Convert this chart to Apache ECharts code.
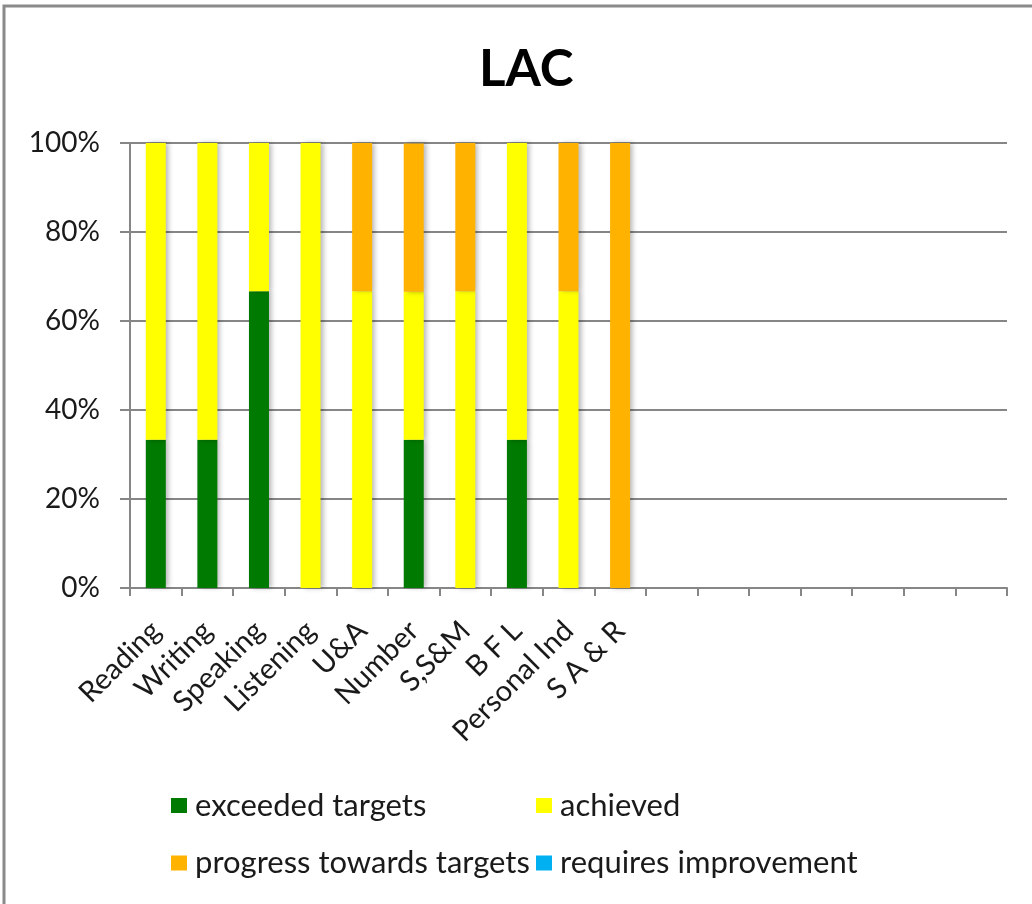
<!DOCTYPE html>
<html>
<head>
<meta charset="utf-8">
<script src="https://cdn.jsdelivr.net/npm/echarts@6/dist/echarts.min.js"></script>
<style>
html,body{margin:0;padding:0;background:#fff;}
#chart{width:1032px;height:904px;}
</style>
</head>
<body>
<div id="chart"></div>
<script>
const categories = ['Reading','Writing','Speaking','Listening','U&A','Number','S,S&M','B F L','Personal Ind','S A & R','','','','','','',''];
const exceeded = [33.3,33.3,66.7,0,0,33.3,0,33.3,0,0];
const achieved = [66.7,66.7,33.3,100,66.7,33.3,66.7,66.7,66.7,0];
const progress = [0,0,0,0,33.3,33.3,33.3,0,33.3,100];
const requiresImprovement = [0,0,0,0,0,0,0,0,0,0];
const yTicks = [0,20,40,60,80,100];

const FONT = 'Lato, "Open Sans", sans-serif';
const AXIS = '#868686';
const shadow = {shadowColor:'rgba(0,0,0,0.28)', shadowBlur:5, shadowOffsetX:3, shadowOffsetY:0};

function mk(name, data, color){
  return {name, type:'bar', stack:'s', data, barWidth:20,
    itemStyle:Object.assign({color}, shadow), emphasis:{disabled:true}};
}
const legendText = {fontFamily:FONT, fontSize:31, color:'#1a1a1a', lineHeight:31, padding:[0,0,0,3]};

const chart = echarts.init(document.getElementById('chart'), null, {renderer:'canvas'});
chart.setOption({
  animation:false,
  backgroundColor:'#fff',
  graphic:[{type:'rect', shape:{x:4,y:6,width:1100,height:1000}, style:{fill:'none', stroke:'#8a8a8a', lineWidth:3}, silent:true}],
  title:{text:'LAC', left:474, top:39,
    textStyle:{fontFamily:FONT, fontWeight:'bold', fontSize:51, color:'#000'}},
  grid:{left:130, right:25, top:143, bottom:316, containLabel:false},
  legend:[
    {data:['exceeded targets','progress towards targets'], orient:'vertical', left:171, top:790,
      itemWidth:16, itemHeight:15, itemGap:26.5, icon:'rect', padding:0, textStyle:legendText},
    {data:['achieved','requires improvement'], orient:'vertical', left:536, top:790,
      itemWidth:16, itemHeight:15, itemGap:26.5, icon:'rect', padding:0, textStyle:legendText}
  ],
  xAxis:{type:'category', data:categories, boundaryGap:true,
    axisLine:{show:true, lineStyle:{color:AXIS, width:2}},
    axisTick:{show:true, interval:0, length:8, lineStyle:{color:AXIS, width:2}},
    axisLabel:{interval:0, rotate:45, margin:38, fontFamily:FONT, fontSize:29, color:'#1a1a1a'},
    splitLine:{show:false}},
  yAxis:{type:'value', min:yTicks[0], max:yTicks[yTicks.length-1], interval:20,
    axisLine:{show:true, lineStyle:{color:AXIS, width:2}},
    axisTick:{show:true, length:10, lineStyle:{color:AXIS, width:2}},
    axisLabel:{formatter:'{value}%', margin:30, fontFamily:FONT, fontSize:28, color:'#1a1a1a'},
    splitLine:{show:true, lineStyle:{color:AXIS, width:2}}},
  series:[
    mk('exceeded targets', exceeded, '#007A00'),
    mk('achieved', achieved, '#FFFF00'),
    mk('progress towards targets', progress, '#FFB300'),
    mk('requires improvement', requiresImprovement, '#00B0F0')
  ]
});
</script>
</body>
</html>
